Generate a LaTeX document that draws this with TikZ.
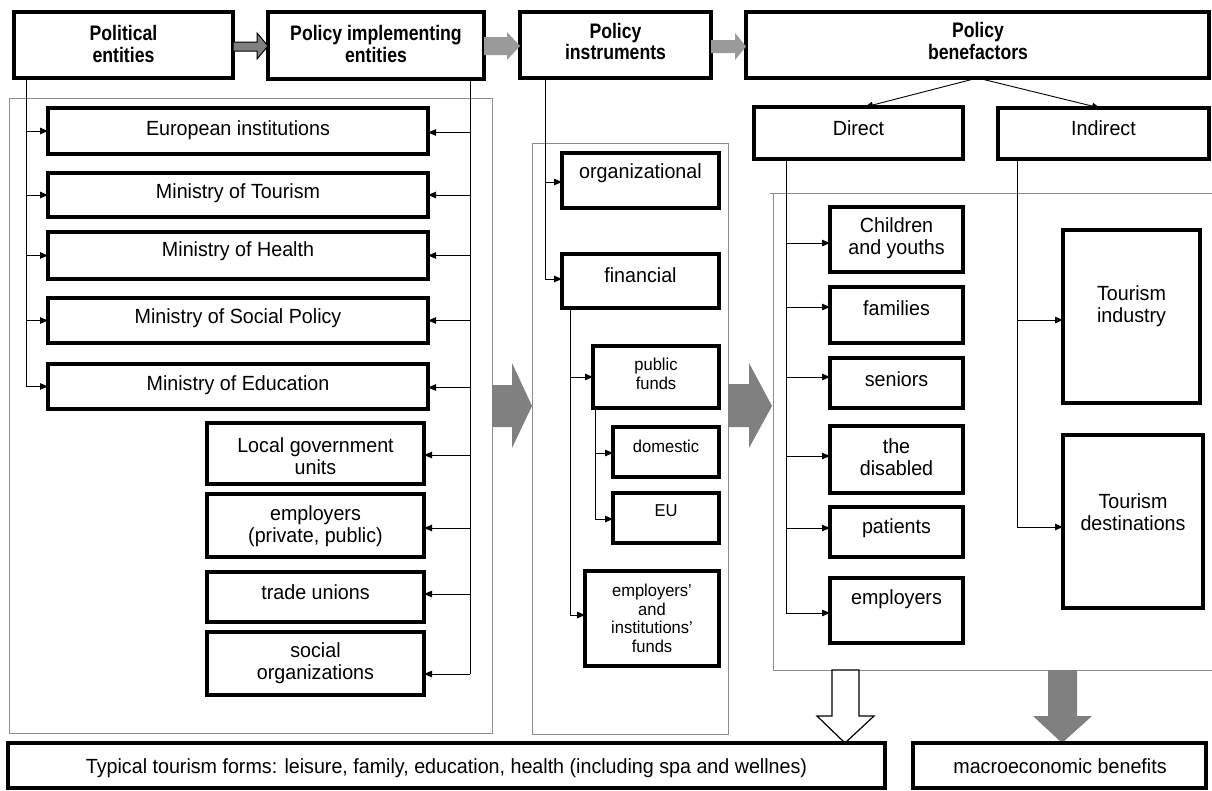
\documentclass[tikz,border=0pt]{standalone}
\usepackage{fontspec}
\setmainfont{Liberation Sans}[FakeStretch=0.96]
\newfontfamily\hfont{Liberation Sans}[FakeStretch=0.84]
\usetikzlibrary{arrows.meta,calc}
\definecolor{gA}{HTML}{808080}
\definecolor{gB}{HTML}{9A9A9A}
\definecolor{pan}{HTML}{8C8C8C}
\newcommand\bx[5]{\node[box, minimum width={#4-#2}, minimum height={#5-#3}] (#1) at ({(#2+#4)/2},{(#3+#5)/2}) {};}
\newcommand\tarr[3]{\coordinate (tmp) at ([yshift=#3]#2); \draw[arr] (#1 |- tmp) -- (tmp);}
\begin{document}
\begin{tikzpicture}[x=1pt,y=-1pt,
 box/.style={draw, line width=3.2pt, rectangle, inner sep=0pt, outer sep=0pt},
 t/.style={font=\fontsize{20.5}{22}\selectfont, align=center, inner sep=0pt},
 hb/.style={font=\hfont\fontsize{21}{21.7}\selectfont\bfseries, align=center, inner sep=0pt},
 sm/.style={font=\fontsize{17.2}{18.5}\selectfont, align=center, inner sep=0pt},
 ln/.style={line width=0.9pt},
 arr/.style={line width=0.9pt, -{Triangle[length=8pt,width=6.5pt]}},
 panel/.style={draw=pan, line width=1pt},
 ]
\useasboundingbox[fill=white] (0,0) rectangle (1212,790);

% panels
\draw[panel] (9,98) rectangle (492,733);
\draw[panel] (532,143) rectangle (728,734);
\draw[panel] (1212,193) -- (770,193);
\draw[panel] (773,193) -- (773,670) -- (1212,670);

% big grey arrows between panels
\fill[gA] (492,385) -- (512,385) -- (512,363) -- (532,406) -- (512,448) -- (512,427) -- (492,427) -- cycle;
\fill[gA] (728,384) -- (749,384) -- (749,363) -- (772,406) -- (749,448) -- (749,427) -- (728,427) -- cycle;

% header
\bx{pol}{14}{12}{233}{78}
\bx{impl}{268}{12}{484}{79}
\bx{instr}{520}{12}{711}{78}
\bx{benef}{746}{12}{1209}{78}
\node[hb] (polT) at (123.5,44) {Political\\entities};
\node[hb] (implT) at (376,44) {Policy implementing\\entities};
\node[hb] (instrT) at (615.5,41.5) {Policy\\instruments};
\node[hb] (benefT) at (978,41) {Policy\\benefactors};

\draw[fill=gA, line width=1pt] (233,42) -- (257,42) -- (257,33) -- (268,46) -- (257,59) -- (257,51) -- (233,51) -- cycle;
\fill[gB] (484,37) -- (507,37) -- (507,32) -- (520,46) -- (507,60) -- (507,55) -- (484,55) -- cycle;
\fill[gB] (711,40) -- (735,40) -- (735,33) -- (746,46.5) -- (735,60) -- (735,53) -- (711,53) -- cycle;

\bx{direct}{754}{107}{963}{159}
\bx{indirect}{998}{108}{1209}{159}
\node[t] (directT) at (858.5,128) {Direct};
\node[t] (indirectT) at (1103.5,128) {Indirect};
\draw[arr] (benef.south) -- ([xshift=6.5pt]direct.north);
\draw[arr] (benef.south) -- ([xshift=-3.5pt]indirect.north);

% left column
\bx{eu}{48}{108}{428}{154}
\bx{tour}{48}{173}{428}{217}
\bx{health}{48}{232}{428}{279}
\bx{social}{48}{298}{428}{343}
\bx{edu}{48}{364}{428}{409}
\bx{local}{207}{423}{424}{484}
\bx{empl}{207}{494}{424}{557}
\bx{trade}{207}{572}{424}{622}
\bx{socorg}{207}{632}{424}{695}
\node[t] (euT) at (238,130) {European institutions};
\node[t] (tourT) at (238,193) {Ministry of Tourism};
\node[t] (healthT) at (238,251) {Ministry of Health};
\node[t] (socialT) at (238,318) {Ministry of Social Policy};
\node[t] (eduT) at (238,385) {Ministry of Education};
\node[t] (localT) at (315.5,456) {Local government\\units};
\node[t] (emplT) at (315.5,526) {employers\\(private, public)};
\node[t] (tradeT) at (315.5,592) {trade unions};
\node[t] (socorgT) at (315.5,663.5) {social\\organizations};

\coordinate (lt) at ([xshift=12pt]pol.south west);
\draw[ln] (lt) -- (lt |- edu.west);
\foreach \n in {eu,tour,health,social,edu} {\draw[arr] (lt |- \n.west) -- (\n.west);}

\coordinate (rt) at ([xshift=-14pt]impl.south east);
\coordinate (socA) at ([yshift=-10.5pt]socorg.east);
\draw[ln] (rt) -- (rt |- socA);
\tarr{rt}{eu.east}{-1.5pt}
\tarr{rt}{tour.east}{0pt}
\tarr{rt}{health.east}{0pt}
\tarr{rt}{social.east}{0pt}
\tarr{rt}{edu.east}{-1pt}
\tarr{rt}{local.east}{-1.5pt}
\tarr{rt}{empl.east}{-2.5pt}
\tarr{rt}{trade.east}{3pt}
\tarr{rt}{socorg.east}{-10.5pt}

% middle column
\bx{org}{562}{153}{719}{208}
\bx{fin}{562}{254}{719}{308}
\bx{pub}{593}{346}{719}{408}
\bx{dom}{613}{427}{719}{477}
\bx{eub}{613}{493}{719}{543}
\bx{efund}{585}{571}{719}{666}
\node[t] (orgT) at (640.5,173) {organizational};
\node[t] (finT) at (640.5,275) {financial};
\node[sm] (pubT) at (656,374) {public\\funds};
\node[sm] (domT) at (666,446) {domestic};
\node[sm] (eubT) at (666,511) {EU};
\node[sm] (efundT) at (652,618.5) {employers'\\and\\institutions'\\funds};

\coordinate (it) at ([xshift=25pt]instr.south west);
\coordinate (finA) at ([yshift=2pt]fin.west);
\draw[ln] (it) -- (it |- finA);
\tarr{it}{org.west}{-1.5pt}
\tarr{it}{fin.west}{2pt}

\coordinate (ft) at ([xshift=8pt]fin.south west);
\coordinate (efA) at ([yshift=3.5pt]efund.west);
\draw[ln] (ft) -- (ft |- efA);
\tarr{ft}{pub.west}{0pt}
\tarr{ft}{efund.west}{3.5pt}

\coordinate (pt) at ([xshift=2pt]pub.south west);
\coordinate (eubA) at ([yshift=-1pt]eub.west);
\draw[ln] (pt) -- (pt |- eubA);
\tarr{pt}{dom.west}{-1pt}
\tarr{pt}{eub.west}{-1pt}

% right column
\bx{child}{830}{207}{963}{272}
\bx{fam}{830}{287}{963}{343}
\bx{sen}{830}{358}{963}{408}
\bx{dis}{830}{426}{963}{493}
\bx{pat}{830}{507}{963}{557}
\bx{emp}{830}{578}{963}{643}
\bx{tind}{1063}{230}{1200}{403}
\bx{tdest}{1063}{435}{1203}{608}
\node[t] (childT) at (896.5,238) {Children\\and youths};
\node[t] (famT) at (896.5,308) {families};
\node[t] (senT) at (896.5,379) {seniors};
\node[t] (disT) at (896.5,457.5) {the\\disabled};
\node[t] (patT) at (896.5,528) {patients};
\node[t] (empT) at (896.5,599) {employers};
\node[t] (tindT) at (1131.5,306.5) {Tourism\\industry};
\node[t] (tdestT) at (1133,512.5) {Tourism\\destinations};

\coordinate (dt) at ([xshift=32pt]direct.south west);
\coordinate (empA) at ([yshift=-2.5pt]emp.west);
\draw[ln] (dt) -- (dt |- empA);
\tarr{dt}{child.west}{-3.5pt}
\tarr{dt}{fam.west}{8pt}
\tarr{dt}{sen.west}{6pt}
\tarr{dt}{dis.west}{3.5pt}
\tarr{dt}{pat.west}{4pt}
\tarr{dt}{emp.west}{-2.5pt}

\coordinate (nt) at ([xshift=19pt]indirect.south west);
\coordinate (tdA) at ([yshift=-5.5pt]tdest.west);
\draw[ln] (nt) -- (nt |- tdA);
\tarr{nt}{tind.west}{-3.5pt}
\tarr{nt}{tdest.west}{-5.5pt}

% bottom
\draw[fill=white, line width=1.2pt] (832,670) -- (859,670) -- (859,716) -- (874,716) -- (845,743) -- (817,716) -- (832,716) -- cycle;
\fill[gA] (1048,670) -- (1077,670) -- (1077,716) -- (1092,716) -- (1062,743) -- (1033,716) -- (1048,716) -- cycle;
\bx{typ}{8}{743}{885}{788}
\bx{macro}{913}{743}{1206}{788}
\node[t] (typT) at (446.5,768) {Typical tourism forms: leisure, family, education, health (including spa and wellnes)};
\node[t] (macroT) at (1060,766) {macroeconomic benefits};
\end{tikzpicture}
\end{document}
